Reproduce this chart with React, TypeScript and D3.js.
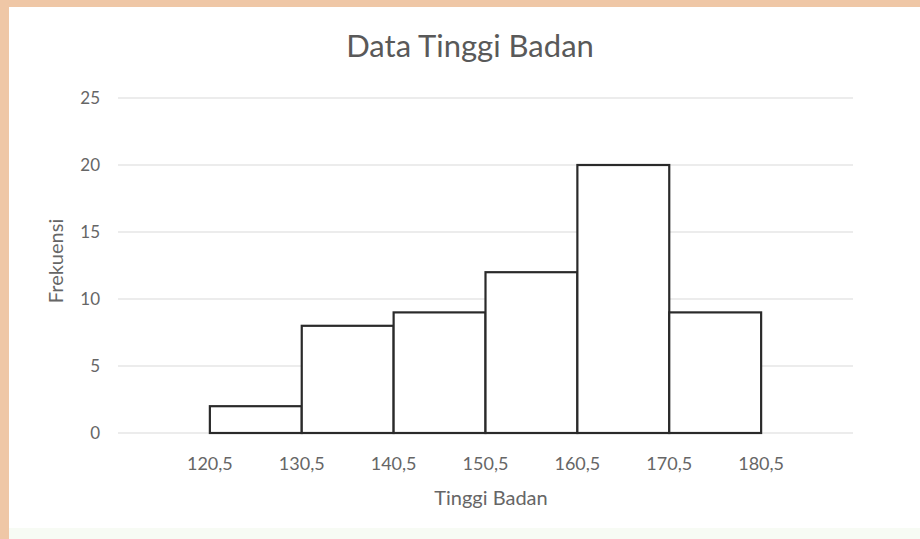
import React from "react";
import * as d3 from "d3";

const edges = [120.5, 130.5, 140.5, 150.5, 160.5, 170.5, 180.5];
const frequencies = [2, 8, 9, 12, 20, 9];
const yTicks = [0, 5, 10, 15, 20, 25];
const tickLabels = ["120,5", "130,5", "140,5", "150,5", "160,5", "170,5", "180,5"];

const W = 920, H = 539;
const FONT = "Lato, 'Open Sans', sans-serif";

export default function App() {
  const x = d3.scaleLinear().domain([110.5, 190.5]).range([118, 853]);
  const y = d3.scaleLinear().domain([0, 25]).range([433, 98]);
  const bins = frequencies.map((f, i) => ({ x0: edges[i], x1: edges[i + 1], f }));
  return (
    <svg width={W} height={H} style={{ position: "absolute", left: 0, top: 0, display: "block" }}>
      <rect x={0} y={0} width={W} height={H} fill="#efc7a6" />
      <rect x={9} y={7} width={W - 9} height={H - 7} fill="#ffffff" />
      <rect x={9} y={528} width={W - 9} height={11} fill="#f7fbf4" />
      <text x={470} y={57} textAnchor="middle" fontFamily={FONT} fontSize={31} fill="#595959">
        Data Tinggi Badan
      </text>
      {yTicks.map((t) => (
        <g key={t}>
          <line x1={118} x2={853} y1={y(t)} y2={y(t)} stroke="#e6e6e6" strokeWidth={1.5} />
          <text x={100} y={y(t)} dy="0.35em" textAnchor="end" fontFamily={FONT} fontSize={17} fill="#666">
            {t}
          </text>
        </g>
      ))}
      {bins.map((b, i) => (
        <rect
          key={i}
          x={x(b.x0)}
          y={y(b.f)}
          width={x(b.x1) - x(b.x0)}
          height={y(0) - y(b.f)}
          fill="#ffffff"
          stroke="#2a2a2a"
          strokeWidth={2.2}
        />
      ))}
      {edges.map((e, i) => (
        <text key={e} x={x(e)} y={470} textAnchor="middle" fontFamily={FONT} fontSize={18} fill="#666">
          {tickLabels[i]}
        </text>
      ))}
      <text x={491} y={505} textAnchor="middle" fontFamily={FONT} fontSize={20} fill="#666">
        Tinggi Badan
      </text>
      <text
        transform={`translate(63, 261) rotate(-90)`}
        textAnchor="middle"
        fontFamily={FONT}
        fontSize={20}
        fill="#666"
      >
        Frekuensi
      </text>
    </svg>
  );
}
